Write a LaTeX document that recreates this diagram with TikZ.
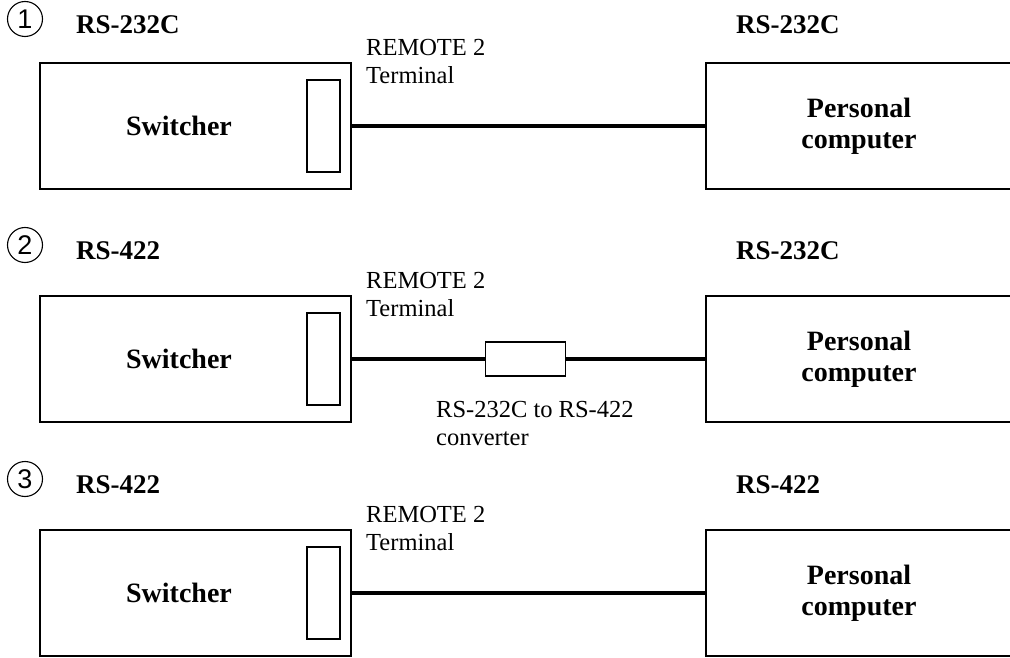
\documentclass[tikz,border=0pt]{standalone}
\usepackage{fontspec}
\setmainfont{Liberation Serif}
\newfontfamily\numfont{Liberation Sans}
\usetikzlibrary{positioning}
\tikzset{
  devbox/.style={draw, line width=2pt, minimum height=126pt, inner sep=0pt},
  portbox/.style={draw, line width=1.4pt, minimum width=33pt, minimum height=92pt, inner sep=0pt},
  convbox/.style={draw, line width=1.4pt, minimum width=80pt, minimum height=34pt, inner sep=0pt},
  cable/.style={line width=4.5pt},
  headtxt/.style={font=\fontsize{27}{30}\selectfont\bfseries, inner sep=0pt},
  boxtxt/.style={font=\fontsize{28}{31}\selectfont\bfseries, inner sep=0pt},
  plaintxt/.style={font=\fontsize{24.5}{28}\selectfont, align=left, inner sep=0pt},
  numcirc/.style={draw, circle, line width=1.1pt, minimum size=35pt, inner sep=0pt,
    font=\fontsize{27}{27}\selectfont\numfont}
}

\begin{document}
\begin{tikzpicture}[x=1pt, y=-1pt]
  \useasboundingbox (0,0) rectangle (1010,658);
  \clip (0,0) rectangle (1010,658);
  % three set-ups, one per row
  \foreach \i/\dy/\hy/\lft/\rgt in {1/0/25/RS-232C/RS-232C, 2/233/18/RS-422/RS-232C, 3/467/18/RS-422/RS-422} {
    \begin{scope}[yshift=-\dy pt]
      \node[numcirc] (num\i) at (25,\hy-6) {\i};
      \node[headtxt, anchor=west] (hl\i) at (76,\hy) {\lft};
      \node[headtxt, anchor=west] (hr\i) at (736,\hy) {\rgt};
      \node[devbox, minimum width=311pt] (sw\i) at (195.5,126) {};
      \node[boxtxt] (swt\i) at (179,126) {Switcher};
      \node[portbox] (port\i) at (323.5,126) {};
      \node[devbox, minimum width=306pt, boxtxt, align=center] (pc\i) at (859,126) {Personal\\computer};
      \node[plaintxt, anchor=north west] (rem\i) at (366,39) {REMOTE 2\\Terminal};
    \end{scope}
  }
  \draw[cable] (sw1.east) -- (pc1.west);
  % converter in row 2
  \begin{scope}[yshift=-233pt]
    \node[convbox] (conv2) at (525.5,126) {};
    \node[plaintxt, anchor=north west] (convt2) at (436,168) {RS-232C to RS-422\\converter};
  \end{scope}
  \draw[cable] (sw2.east) -- (conv2.west);
  \draw[cable] (conv2.east) -- (pc2.west);
  \draw[cable] (sw3.east) -- (pc3.west);
\end{tikzpicture}
\end{document}
